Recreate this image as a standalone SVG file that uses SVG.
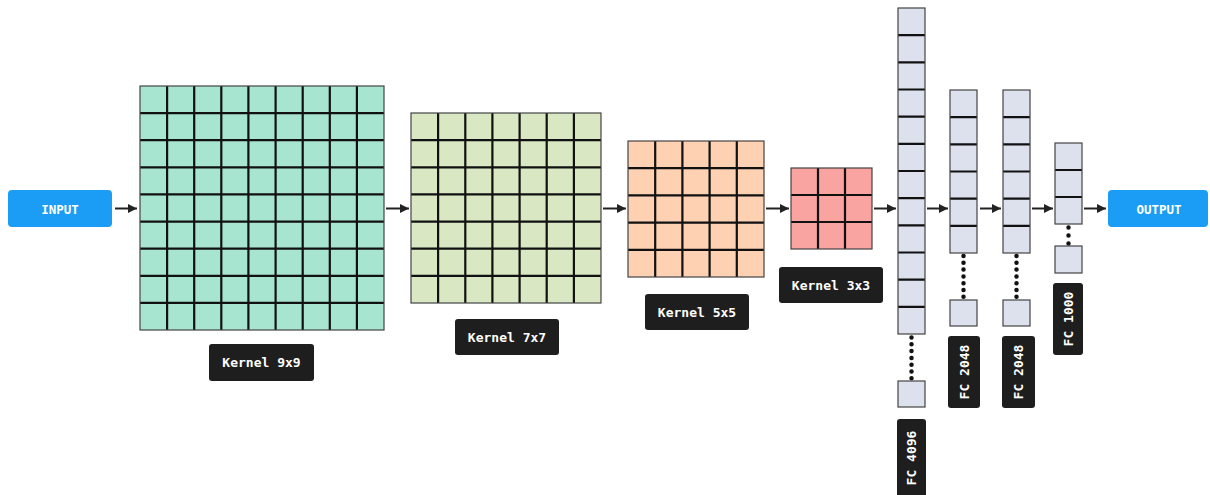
<svg xmlns="http://www.w3.org/2000/svg" width="1210" height="495" viewBox="0 0 1210 495">
<style>
.io{fill:#1b9df5}
.iot{fill:#ffffff;font-family:"DejaVu Sans Mono","Liberation Mono",monospace;font-weight:bold;font-size:12.5px;text-anchor:middle;dominant-baseline:central}
.lab{fill:#1e1e1e}
.labt{fill:#ffffff;font-family:"DejaVu Sans Mono","Liberation Mono",monospace;font-weight:bold;font-size:13px;text-anchor:middle;dominant-baseline:central}
.inner{fill:none;stroke:#111;stroke-width:2.2}
.border{fill:none;stroke:#444;stroke-width:1.2}
.fc{fill:#dde1ee}
.dots{stroke:#111;stroke-width:4.5;stroke-linecap:round;fill:none}
.conn{stroke:#222;stroke-width:2;fill:none;marker-end:url(#ah)}
</style>
<defs>
<marker id="ah" markerUnits="userSpaceOnUse" viewBox="0 0 10 10" refX="10" refY="5" markerWidth="9" markerHeight="10" orient="auto">
<path d="M0,0 L10,5 L0,10 z" fill="#222"/>
</marker>
</defs>
<rect width="1210" height="495" fill="#ffffff"/>

<g id="input">
<rect class="io" x="8" y="190" width="104" height="37" rx="4"/>
<text class="iot" x="60" y="209">INPUT</text>
</g>

<g id="kernel9">
<rect x="140" y="86" width="244" height="244" fill="#a8e5d1"/>
<path class="inner" d="M167.1,86V330M194.2,86V330M221.3,86V330M248.4,86V330M275.6,86V330M302.7,86V330M329.8,86V330M356.9,86V330M140,113.1H384M140,140.2H384M140,167.3H384M140,194.4H384M140,221.6H384M140,248.7H384M140,275.8H384M140,302.9H384"/>
<rect class="border" x="140" y="86" width="244" height="244"/>
<rect class="lab" x="209" y="344" width="105" height="37" rx="3"/>
<text class="labt" x="261.5" y="362.5">Kernel 9x9</text>
</g>

<g id="kernel7">
<rect x="411" y="113" width="190" height="190" fill="#d9e8c2"/>
<path class="inner" d="M438.1,113V303M465.3,113V303M492.4,113V303M519.6,113V303M546.7,113V303M573.9,113V303M411,140.1H601M411,167.3H601M411,194.4H601M411,221.6H601M411,248.7H601M411,275.9H601"/>
<rect class="border" x="411" y="113" width="190" height="190"/>
<rect class="lab" x="455" y="319" width="104" height="36" rx="3"/>
<text class="labt" x="507" y="337">Kernel 7x7</text>
</g>

<g id="kernel5">
<rect x="628" y="141" width="136" height="136" fill="#fdd1b2"/>
<path class="inner" d="M655.2,141V277M682.4,141V277M709.6,141V277M736.8,141V277M628,168.2H764M628,195.4H764M628,222.6H764M628,249.8H764"/>
<rect class="border" x="628" y="141" width="136" height="136"/>
<rect class="lab" x="645" y="294" width="104" height="36" rx="3"/>
<text class="labt" x="697" y="312">Kernel 5x5</text>
</g>

<g id="kernel3">
<rect x="791" y="168" width="81" height="81" fill="#f9a4a1"/>
<path class="inner" d="M818,168V249M845,168V249M791,195H872M791,222H872"/>
<rect class="border" x="791" y="168" width="81" height="81"/>
<rect class="lab" x="779" y="267" width="104" height="36" rx="3"/>
<text class="labt" x="831" y="285">Kernel 3x3</text>
</g>

<g id="fc4096">
<rect class="fc" x="898" y="8" width="27" height="326"/>
<path class="inner" d="M898,35.2H925M898,62.3H925M898,89.5H925M898,116.7H925M898,143.8H925M898,171H925M898,198.2H925M898,225.3H925M898,252.5H925M898,279.7H925M898,306.8H925"/>
<rect class="border" x="898" y="8" width="27" height="326"/>
<line class="dots" x1="911.5" y1="337.5" x2="911.5" y2="379" stroke-dasharray="0 6.8"/>
<rect class="fc" x="898" y="381" width="27" height="26" stroke="#444" stroke-width="1.2"/>
<rect class="lab" x="897" y="419" width="29" height="80" rx="3"/>
<text class="labt" transform="translate(911.5,458) rotate(-90)">FC 4096</text>
</g>

<g id="fc2048a">
<rect class="fc" x="950" y="90" width="27" height="163"/>
<path class="inner" d="M950,117.2H977M950,144.3H977M950,171.5H977M950,198.7H977M950,225.8H977"/>
<rect class="border" x="950" y="90" width="27" height="163"/>
<line class="dots" x1="963.5" y1="256" x2="963.5" y2="297.5" stroke-dasharray="0 6.8"/>
<rect class="fc" x="950" y="300" width="27" height="26" stroke="#444" stroke-width="1.2"/>
<rect class="lab" x="948" y="336" width="32" height="72" rx="3"/>
<text class="labt" transform="translate(964,372) rotate(-90)">FC 2048</text>
</g>

<g id="fc2048b">
<rect class="fc" x="1003" y="90" width="27" height="163"/>
<path class="inner" d="M1003,117.2H1030M1003,144.3H1030M1003,171.5H1030M1003,198.7H1030M1003,225.8H1030"/>
<rect class="border" x="1003" y="90" width="27" height="163"/>
<line class="dots" x1="1016.5" y1="256" x2="1016.5" y2="297.5" stroke-dasharray="0 6.8"/>
<rect class="fc" x="1003" y="300" width="27" height="26" stroke="#444" stroke-width="1.2"/>
<rect class="lab" x="1002" y="336" width="33" height="72" rx="3"/>
<text class="labt" transform="translate(1018.5,372) rotate(-90)">FC 2048</text>
</g>

<g id="fc1000">
<rect class="fc" x="1055" y="143" width="27" height="81"/>
<path class="inner" d="M1055,170H1082M1055,197H1082"/>
<rect class="border" x="1055" y="143" width="27" height="81"/>
<line class="dots" x1="1068.5" y1="227.5" x2="1068.5" y2="244.5" stroke-dasharray="0 8"/>
<rect class="fc" x="1055" y="246" width="27" height="27" stroke="#444" stroke-width="1.2"/>
<rect class="lab" x="1053" y="283" width="30" height="72" rx="3"/>
<text class="labt" transform="translate(1068,319) rotate(-90)">FC 1000</text>
</g>

<g id="output">
<rect class="io" x="1108" y="190" width="100" height="37" rx="4"/>
<text class="iot" x="1159" y="209">OUTPUT</text>
</g>

<g id="connectors">
<line class="conn" x1="115" y1="208.5" x2="137" y2="208.5"/>
<line class="conn" x1="386" y1="208.5" x2="409" y2="208.5"/>
<line class="conn" x1="603" y1="208.5" x2="626" y2="208.5"/>
<line class="conn" x1="766" y1="208.5" x2="789" y2="208.5"/>
<line class="conn" x1="874" y1="208.5" x2="896" y2="208.5"/>
<line class="conn" x1="927" y1="208.5" x2="948" y2="208.5"/>
<line class="conn" x1="980" y1="208.5" x2="1001" y2="208.5"/>
<line class="conn" x1="1032" y1="208.5" x2="1053" y2="208.5"/>
<line class="conn" x1="1084" y1="208.5" x2="1106" y2="208.5"/>
</g>
</svg>
